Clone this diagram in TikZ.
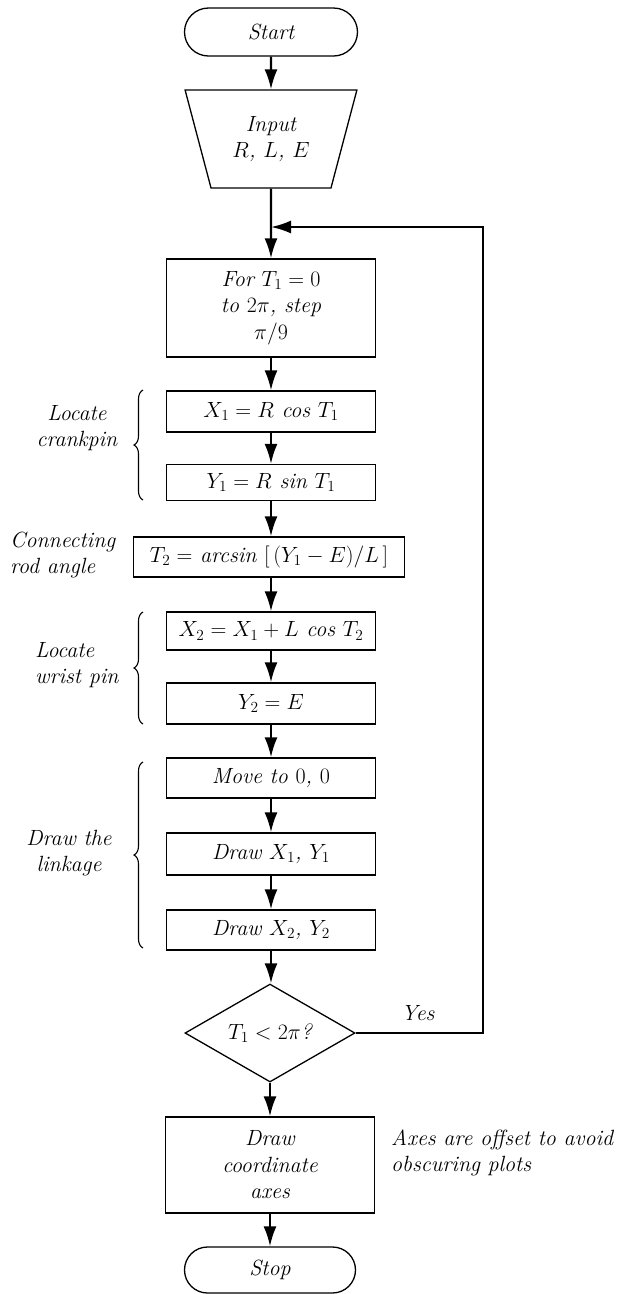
\RequirePackage{fix-cm}
\documentclass[tikz,border=0pt]{standalone}
\usetikzlibrary{shapes.geometric,shapes.misc,arrows.meta,decorations.pathreplacing}
\begin{document}
\begin{tikzpicture}[x=1pt,y=-1pt,
  font=\fontsize{22}{26.5}\selectfont\itshape,
  box/.style={draw, line width=1.3pt, minimum width=209pt, align=center, inner sep=0pt},
  term/.style={draw, rounded rectangle, line width=1.3pt, minimum width=173pt, minimum height=48pt, inner sep=0pt},
  arr/.style={line width=2.2pt, -{Latex[length=20pt,width=13pt]}},
  lab/.style={align=center, inner sep=0pt},
  brc/.style={line width=1.1pt, decorate, decoration={brace, amplitude=9pt}}]
\useasboundingbox (0,0) rectangle (631,1294);

\node[term] (start) at (271,32) {Start};
\node[draw, trapezium, shape border rotate=180, trapezium stretches=true,
      trapezium left angle=70, trapezium right angle=70,
      minimum width=172pt, minimum height=98pt, inner sep=0pt, line width=1.3pt,
      align=center] (inp) at (271,139) {Input\\$R$, $L$, $E$};
\coordinate (join) at (271,227);
\node[box, minimum height=98pt] (for) at (271,308) {For $T_1 = 0$\\to $2\pi$, step\\$\pi/9$};
\node[box, minimum height=41pt] (x1) at (271,411.5) {$X_1 = R$ cos $T_1$};
\node[box, minimum height=36pt] (y1) at (271,482.5) {$Y_1 = R$ sin $T_1$};
\node[box, minimum width=271pt, minimum height=40pt] (t2) at (269,557) {$T_2 = $ arcsin $[\,(Y_1 - E)/L\,]$};
\node[box, minimum height=38pt] (x2) at (271,631) {$X_2 = X_1 + L$ cos $T_2$};
\node[box, minimum height=41pt] (y2) at (271,703.5) {$Y_2 = E$};
\node[box, minimum height=40pt] (mv) at (271,778) {Move to $0$, $0$};
\node[box, minimum height=42pt] (d1) at (271,854) {Draw $X_1$, $Y_1$};
\node[box, minimum height=40pt] (d2) at (271,930) {Draw $X_2$, $Y_2$};
\node[draw, diamond, aspect=1.75, minimum width=170pt, minimum height=98pt,
      inner sep=0pt, line width=1.3pt] (dec) at (270,1033) {$T_1 < 2\pi$?};
\node[box, minimum height=96pt] (ax) at (270,1165) {Draw\\coordinate\\axes};
\node[term, minimum height=46pt, minimum width=171pt] (stop) at (270,1270) {Stop};

\coordinate (rb) at (483,1033);
\coordinate (rt) at (483,227);

% side labels
\node[lab] (lcrank) at (77,428) {Locate\\crankpin};
\node[lab, align=left, anchor=west] (lrod) at (10,555) {Connecting\\rod angle};
\node[lab, align=left, anchor=west] (lwrist) at (35,665) {Locate\\wrist pin};
\node[lab] (llink) at (69,853) {Draw the\\linkage};
\node[lab] (yes) at (418,1013) {Yes};
\node[lab, align=left, anchor=west] (note) at (391,1153) {Axes are offset to avoid\\obscuring plots};

% braces
\draw[brc] (143,500) -- (143,390);
\draw[brc] (143,724) -- (143,612);
\draw[brc] (143,948) -- (143,762);

% connectors
\draw[arr] (start) -- (inp);
\draw[arr] (inp) -- (for);
\draw[arr] (for) -- (x1);
\draw[arr] (x1) -- (y1);
\draw[arr] (y1) -- (y1.south |- t2.north);
\draw[arr] (y1.south |- t2.south) -- (x2);
\draw[arr] (x2) -- (y2);
\draw[arr] (y2) -- (mv);
\draw[arr] (mv) -- (d1);
\draw[arr] (d1) -- (d2);
\draw[arr] (d2.south) -- (d2.south |- dec.north);
\draw[arr] (dec.south) -- (dec.south |- ax.north);
\draw[arr] (ax) -- (stop);
\draw[arr] (dec.east) -- (rb) -- (rt) -- (join);
\end{tikzpicture}
\end{document}
